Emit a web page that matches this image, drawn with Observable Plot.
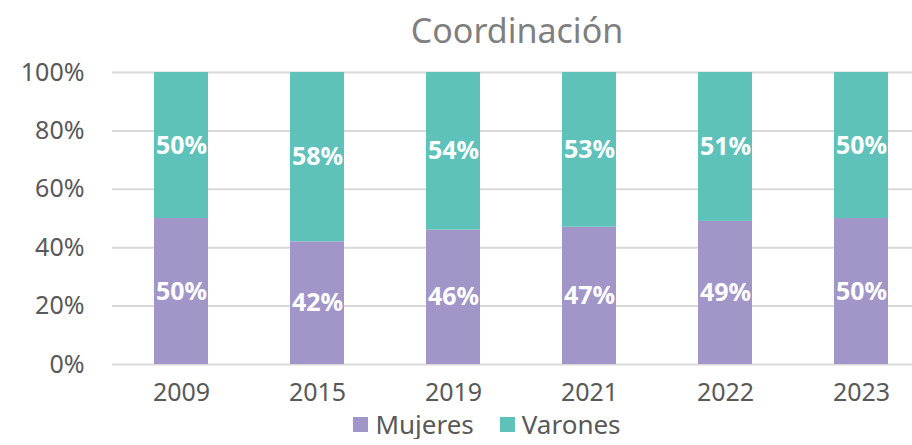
<!DOCTYPE html>
<html>
<head>
<meta charset="utf-8">
<script src="https://cdn.jsdelivr.net/npm/d3@7"></script>
<script src="https://cdn.jsdelivr.net/npm/@observablehq/plot@0.6"></script>
<style>
  body { margin: 0; background: #fff; font-family: "Noto Sans", sans-serif; position: relative; }
  #title { position: absolute; top: 0; left: 0; height: 60px; width: 912px; box-sizing: border-box; padding-left: 122px; text-align: center; font-size: 34px; color: #7f7f7f; line-height: 60px; }
  #chart svg { display: block; }
  #legend { width: 912px; display: flex; justify-content: center; padding-left: 62px; box-sizing: border-box; gap: 26px; font-size: 26px; color: #595959; line-height: 30px; margin-top: -3px; }
  .item { display: flex; align-items: center; gap: 7px; }
  .sw { width: 15px; height: 15px; display: inline-block; }
</style>
</head>
<body>
<div id="chart"></div>
<div id="title">Coordinación</div>
<div id="legend"></div>
<script>
const years = ["2009", "2015", "2019", "2021", "2022", "2023"];
const series = ["Mujeres", "Varones"];
const mujeres = [50, 42, 46, 47, 49, 50];
const varones = [50, 58, 54, 53, 51, 50];
const colors = ["#a296c8", "#5ec2bb"];
const yTicks = [0, 20, 40, 60, 80, 100];

const data = [];
years.forEach((y, i) => {
  data.push({year: y, series: "Mujeres", value: mujeres[i]});
  data.push({year: y, series: "Varones", value: varones[i]});
});

const chart = Plot.plot({
  width: 912,
  height: 412,
  marginTop: 72,
  marginBottom: 48,
  marginLeft: 112,
  marginRight: 0,
  style: {fontFamily: "Noto Sans, sans-serif", fontSize: "25px", color: "#595959", background: "#fff", overflow: "visible"},
  x: {domain: years, range: [111.5, 931.5], paddingInner: 0.6, paddingOuter: 0.3, label: null, tickSize: 0, tickPadding: 19},
  y: {domain: [0, 100], ticks: yTicks, tickFormat: d => d + "%", label: null, tickSize: 0, tickPadding: 28},
  color: {domain: series, range: colors},
  marks: [
    Plot.gridY(yTicks, {stroke: "#d9d9d9", strokeOpacity: 1, strokeWidth: 2}),
    Plot.barY(data, {x: "year", y: "value", fill: "series", order: series}),
    Plot.text(data, Plot.stackY({x: "year", y: "value", z: "series", order: series, text: d => d.value + "%", fill: "white", fontWeight: "bold", fontSize: 25}))
  ]
});
document.getElementById("chart").appendChild(chart);

const leg = document.getElementById("legend");
series.forEach((s, i) => {
  const it = document.createElement("div");
  it.className = "item";
  it.innerHTML = `<span class="sw" style="background:${colors[i]}"></span><span>${s}</span>`;
  leg.appendChild(it);
});
</script>
</body>
</html>
